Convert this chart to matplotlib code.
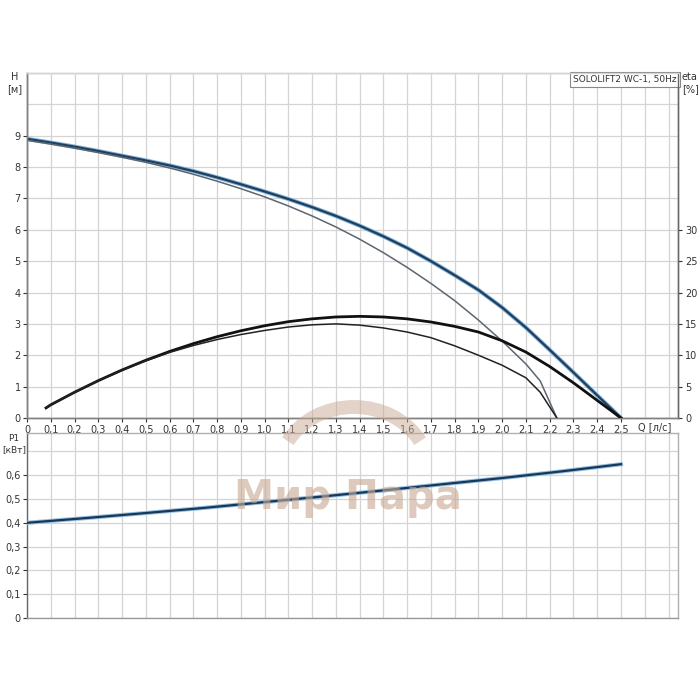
import matplotlib
matplotlib.use("Agg")
import matplotlib.pyplot as plt
from matplotlib.patches import Arc

# ---- data ----
q_h = [0.0, 0.1, 0.2, 0.3, 0.4, 0.5, 0.6, 0.7, 0.8, 0.9, 1.0, 1.1, 1.2, 1.3,
       1.4, 1.5, 1.6, 1.7, 1.8, 1.9, 2.0, 2.1, 2.2, 2.3, 2.4, 2.5]
h_main = [8.90, 8.78, 8.65, 8.51, 8.36, 8.21, 8.05, 7.87, 7.67, 7.45, 7.22, 6.98,
          6.72, 6.44, 6.13, 5.79, 5.42, 5.00, 4.55, 4.08, 3.52, 2.88, 2.17, 1.45,
          0.72, 0.0]
q_h2 = [0.0, 0.1, 0.2, 0.3, 0.4, 0.5, 0.6, 0.7, 0.8, 0.9, 1.0, 1.1, 1.2, 1.3,
        1.4, 1.5, 1.6, 1.7, 1.8, 1.9, 2.0, 2.1, 2.16, 2.23]
h_second = [8.85, 8.73, 8.60, 8.46, 8.31, 8.15, 7.97, 7.77, 7.55, 7.31, 7.05,
            6.76, 6.44, 6.09, 5.70, 5.27, 4.80, 4.29, 3.74, 3.12, 2.45, 1.72,
            1.18, 0.0]
q_eta = [0.08, 0.1, 0.2, 0.3, 0.4, 0.5, 0.6, 0.7, 0.8, 0.9, 1.0, 1.1, 1.2, 1.3,
         1.4, 1.5, 1.6, 1.7, 1.8, 1.9, 2.0, 2.1, 2.2, 2.3, 2.4, 2.5]
eta_main = [1.6, 2.1, 4.1, 5.95, 7.65, 9.2, 10.6, 11.85, 12.95, 13.9, 14.7, 15.35,
            15.8, 16.1, 16.2, 16.1, 15.8, 15.3, 14.6, 13.7, 12.3, 10.5, 8.2,
            5.6, 2.8, 0.0]
q_eta2 = [0.08, 0.1, 0.2, 0.3, 0.4, 0.5, 0.6, 0.7, 0.8, 0.9, 1.0, 1.1, 1.2,
          1.3, 1.4, 1.5, 1.6, 1.7, 1.8, 1.9, 2.0, 2.1, 2.16, 2.23]
eta_second = [1.6, 2.1, 4.1, 5.95, 7.6, 9.1, 10.45, 11.55, 12.5, 13.3, 13.95,
              14.5, 14.85, 15.0, 14.8, 14.35, 13.7, 12.8, 11.5, 10.0, 8.4, 6.4,
              4.1, 0.0]
q_p = [0.0, 0.25, 0.5, 0.75, 1.0, 1.25, 1.5, 1.75, 2.0, 2.25, 2.5]
p1 = [0.400, 0.420, 0.441, 0.463, 0.487, 0.511, 0.536, 0.562, 0.588, 0.616, 0.646]

x_ticks = [i / 10 for i in range(0, 26)]
x_labels = ["0"] + [f"{t:.1f}".replace(".", ",") for t in x_ticks[1:]]
h_ticks = list(range(0, 10))
eta_ticks = [0, 5, 10, 15, 20, 25, 30]
p_ticks = [0, 0.1, 0.2, 0.3, 0.4, 0.5, 0.6]
p_labels = ["0"] + [f"{t:.1f}".replace(".", ",") for t in p_ticks[1:]]
title_text = "SOLOLIFT2 WC-1, 50Hz"

# ---- style ----
plt.rcParams['font.family'] = ['DejaVu Sans']
grid_c = "#d4d4d4"
spine_c = "#808080"
txt_c = "#333333"
fs = 7

fig = plt.figure(figsize=(7, 7), dpi=100)
ax = fig.add_axes([0.0386, 0.4029, 0.9300, 0.4929])
ax2 = ax.twinx()
axp = fig.add_axes([0.0386, 0.1171, 0.9300, 0.2643])

xmax = 2.74
grid_x = [i / 10 for i in range(0, 28)]

# top axes
ax.set_xlim(0, xmax)
ax.set_ylim(0, 11)
ax2.set_ylim(0, 55)
ax.set_xticks(x_ticks)
ax.set_xticklabels(x_labels)
ax.set_yticks(h_ticks)
ax.set_yticks([10, 11], minor=True)
ax.set_xticks([2.6, 2.7], minor=True)
ax.grid(True, which="both", color=grid_c, lw=0.9)
ax.set_axisbelow(True)
ax.tick_params(axis="both", which="major", labelsize=fs, colors=txt_c, length=3, pad=1.5)
ax.tick_params(axis="both", which="minor", length=0)
ax.tick_params(axis="x", pad=2)
ax2.set_yticks(eta_ticks)
ax2.tick_params(axis="y", labelsize=fs, colors=txt_c, length=3, pad=2)

for a in (ax, ax2):
    for s in a.spines.values():
        s.set_color(spine_c)
        s.set_linewidth(1.0)
    a.spines["top"].set_color(grid_c)
ax.spines["left"].set_color("#666666")
ax2.spines["right"].set_color("#666666")

ax.plot(q_h, h_main, color="#7fb0d8", lw=3.0, solid_capstyle="round", zorder=3)
ax.plot(q_h, h_main, color="#1f3f5f", lw=1.6, zorder=4)
ax.plot(q_h2, h_second, color="#5c6670", lw=1.1, zorder=4)
ax2.plot(q_eta, eta_main, color="#111111", lw=2.0, zorder=4)
ax2.plot(q_eta2, eta_second, color="#222222", lw=1.1, zorder=4)

fig.text(15 / 700, 1 - 72 / 700, "H\n[м]", ha="center", va="top",
         fontsize=fs, color=txt_c, linespacing=1.3)
fig.text(682 / 700, 1 - 72 / 700, "eta\n[%]", ha="left", va="top",
         fontsize=fs, color=txt_c, linespacing=1.3)
fig.text(655 / 700, 1 - 427 / 700, "Q [л/с]", ha="center", va="center",
         fontsize=fs, color=txt_c)
ax.text(0.9975, 0.994, title_text, transform=ax.transAxes, ha="right", va="top",
        fontsize=6.5, color=txt_c,
        bbox=dict(boxstyle="square,pad=0.35", fc="white", ec="#888888", lw=0.8),
        zorder=6)

# bottom axes
axp.set_xlim(0, xmax)
axp.set_ylim(0, 0.777)
axp.set_xticks(grid_x)
axp.set_xticklabels([])
axp.set_yticks(p_ticks)
axp.set_yticklabels(p_labels)
axp.set_yticks([0.7], minor=True)
axp.grid(True, which="both", color=grid_c, lw=0.9)
axp.set_axisbelow(True)
axp.tick_params(axis="y", which="major", labelsize=fs, colors=txt_c, length=3, pad=1.5)
axp.tick_params(axis="x", length=0)
axp.tick_params(which="minor", length=0)
for s in axp.spines.values():
    s.set_color("#b0b0b0")
    s.set_linewidth(1.0)
axp.spines["left"].set_color("#666666")
axp.spines["bottom"].set_color("#999999")
axp.plot(q_p, p1, color="#8fc0e6", lw=3.0, zorder=3)
axp.plot(q_p, p1, color="#1c3656", lw=1.6, zorder=4)
fig.text(14 / 700, 1 - 434 / 700, "P1\n[кВт]", ha="center", va="top",
         fontsize=6.5, color=txt_c, linespacing=1.3)

# watermark
arc = Arc((354 / 700, 1 - 472 / 700), 150 / 700, 130 / 700, theta1=25, theta2=155,
          transform=fig.transFigure, color="#c9a892", lw=10, alpha=0.5, zorder=10)
fig.add_artist(arc)
fig.text(348 / 700, 1 - 498 / 700, "Мир Пара", ha="center", va="center",
         fontsize=29, fontweight="bold", color="#c9a892", alpha=0.6, zorder=10)

fig.savefig("out.png", dpi=100)
